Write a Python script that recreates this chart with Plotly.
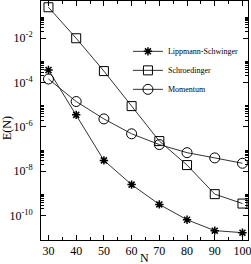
import plotly.graph_objects as go

N = [30, 40, 50, 60, 70, 80, 90, 100]
lippmann = [3.7e-4, 3.5e-6, 3.1e-8, 2.5e-9, 3.2e-10, 6.5e-11, 2.1e-11, 1.7e-11]
schroedinger = [2.5e-1, 1.0e-2, 3.3e-4, 8.7e-6, 2.3e-7, 1.9e-8, 9.3e-10, 3.5e-10]
momentum = [1.45e-4, 1.4e-5, 2.3e-6, 4.9e-7, 1.6e-7, 6.9e-8, 4.0e-8, 2.3e-8]

x_ticks = [30, 40, 50, 60, 70, 80, 90, 100]
y_major = [1e-2, 1e-4, 1e-6, 1e-8, 1e-10]
y_labels = ["10<sup>-2</sup>", "10<sup>-4</sup>", "10<sup>-6</sup>", "10<sup>-8</sup>", "10<sup>-10</sup>"]
y_minor = [m * d for d in y_major for m in range(2, 10)]

line_col = "#333333"
fig = go.Figure()
fig.add_trace(go.Scatter(x=N, y=lippmann, name="Lippmann-Schwinger", mode="lines+markers",
                         line=dict(color=line_col, width=1),
                         marker=dict(symbol="asterisk-open", size=7, color="black",
                                     line=dict(color="black", width=1.5))))
fig.add_trace(go.Scatter(x=N, y=schroedinger, name="Schroedinger", mode="lines+markers",
                         line=dict(color=line_col, width=1),
                         marker=dict(symbol="square-open", size=9, color="black",
                                     line=dict(color="black", width=1))))
fig.add_trace(go.Scatter(x=N, y=momentum, name="Momentum", mode="lines+markers",
                         line=dict(color=line_col, width=1),
                         marker=dict(symbol="circle-open", size=10, color="black",
                                     line=dict(color="black", width=1))))

font = "Liberation Serif, Times New Roman, serif"
fig.update_layout(
    width=251, height=264,
    margin=dict(l=41, r=3, t=1, b=24, autoexpand=False),
    paper_bgcolor="white", plot_bgcolor="white",
    font=dict(family=font, size=12, color="black"),
    showlegend=True,
    legend=dict(x=0.42, y=0.85, xanchor="left", yanchor="top",
                font=dict(size=8, family=font), bgcolor="rgba(0,0,0,0)",
                tracegroupgap=0, itemwidth=30, borderwidth=0),
    xaxis=dict(range=[27.3, 102], tickvals=x_ticks, ticks="inside", ticklen=5,
               tickwidth=1, tickcolor="black", showline=True, linecolor="black",
               linewidth=1, mirror="ticks", showgrid=False, zeroline=False,
               automargin=False, tickfont=dict(size=12), ticklabeloverflow="allow",
               minor=dict(tickvals=[35, 45, 55, 65, 75, 85, 95], ticks="inside",
                          ticklen=3, tickcolor="black", showgrid=False)),
    yaxis=dict(type="log", range=[-11.1, -0.32], tickvals=y_major, ticktext=y_labels,
               ticks="inside", ticklen=5, tickwidth=1, ticklabelstandoff=5,
               tickcolor="black", showline=True, linecolor="black", linewidth=1,
               mirror="ticks", showgrid=False, zeroline=False, automargin=False,
               tickfont=dict(size=12), ticklabeloverflow="allow",
               minor=dict(tickvals=y_minor, ticks="inside", ticklen=3,
                          tickcolor="black", showgrid=False)),
    annotations=[
        dict(text="N", x=0.5, y=-0.077, xref="paper", yref="paper", xanchor="center",
             yanchor="middle", showarrow=False, font=dict(size=12, family=font)),
        dict(text="E(N)", x=-0.164, y=0.469, xref="paper", yref="paper", xanchor="center",
             yanchor="middle", showarrow=False, textangle=-90, font=dict(size=12, family=font)),
    ],
)
fig.write_html("out.html", config={"displayModeBar": False},
               post_script="document.body.style.margin='0';document.body.style.padding='0';")
